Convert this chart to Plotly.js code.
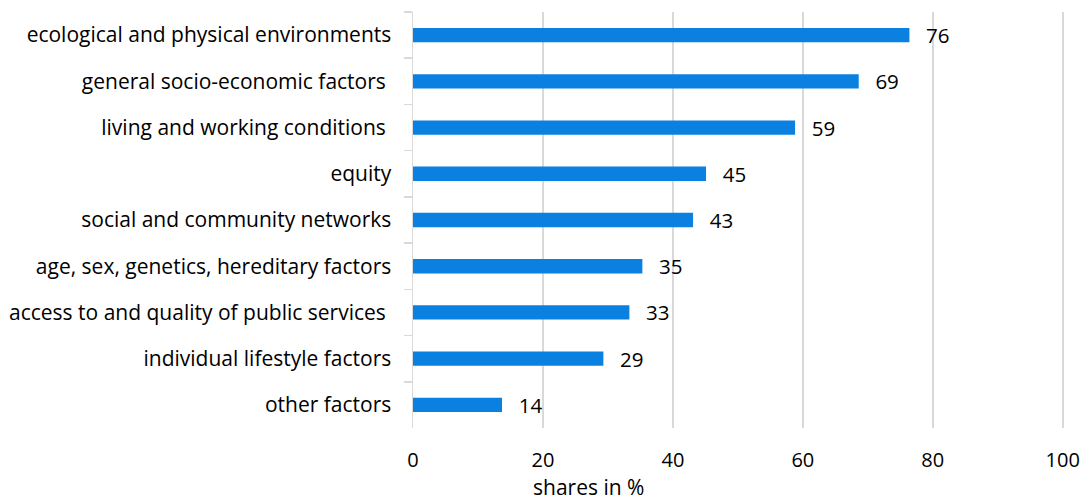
<!DOCTYPE html>
<html>
<head>
<meta charset="utf-8">
<script src="https://cdn.plot.ly/plotly-3.0.1.min.js"></script>
<style>html,body{margin:0;padding:0;background:#fff;}#chart{width:1086px;height:503px;}</style>
</head>
<body>
<div id="chart"></div>
<script>
var categories = [
  "ecological and physical environments",
  "general socio-economic factors\u00a0",
  "living and working conditions\u00a0",
  "equity",
  "social and community networks",
  "age, sex, genetics, hereditary factors",
  "access to and quality of public services\u00a0",
  "individual lifestyle factors",
  "other factors"
];
var shares = [76.4, 68.6, 58.8, 45.1, 43.1, 35.3, 33.3, 29.3, 13.7];
var shareLabels = ["76", "69", "59", "45", "43", "35", "33", "29", "14"];
var xTicks = [0, 20, 40, 60, 80, 100];
var xTitle = "shares in %";

var FONT = "'Open Sans', Lato, sans-serif";

var trace = {
  type: 'bar',
  orientation: 'h',
  y: categories,
  x: shares,
  width: 0.31,
  marker: {color: '#0a80e0'},
  text: shareLabels.map(function(v){ return '\u2002\u2009' + v; }),
  textposition: 'outside',
  constraintext: 'none',
  cliponaxis: false,
  textfont: {family: FONT, size: 20.5, color: '#000'},
  hoverinfo: 'none'
};

var layout = {
  width: 1086, height: 503,
  margin: {l: 413, r: 20, t: 12, b: 75},
  paper_bgcolor: '#fff', plot_bgcolor: '#fff',
  showlegend: false,
  font: {family: FONT, size: 20, color: '#000'},
  xaxis: {
    range: [0, 100.5],
    tickvals: xTicks,
    ticktext: xTicks.map(String),
    showgrid: true, gridcolor: '#d9d9d9', gridwidth: 1.5,
    zeroline: false, showline: false, ticks: '',
    ticklabelstandoff: 18,
    tickfont: {family: FONT, size: 20, color: '#000'},
    fixedrange: true
  },
  yaxis: {
    type: 'category',
    autorange: 'reversed',
    showgrid: false, zeroline: false,
    showline: true, linecolor: '#d9d9d9', linewidth: 1.5,
    ticks: 'outside', tickson: 'boundaries', ticklen: 8, tickcolor: '#d9d9d9', tickwidth: 1.5,
    ticklabelstandoff: 16,
    tickfont: {family: FONT, size: 21, color: '#000'},
    fixedrange: true
  },
  annotations: [{
    text: xTitle,
    xref: 'paper', yref: 'paper',
    x: 0.268, y: 0,
    xanchor: 'center', yanchor: 'middle',
    yshift: -59,
    showarrow: false,
    font: {family: FONT, size: 21, color: '#000'}
  }],
  bargap: 0.69
};

Plotly.newPlot('chart', [trace], layout, {displayModeBar: false, staticPlot: true});
</script>
</body>
</html>
